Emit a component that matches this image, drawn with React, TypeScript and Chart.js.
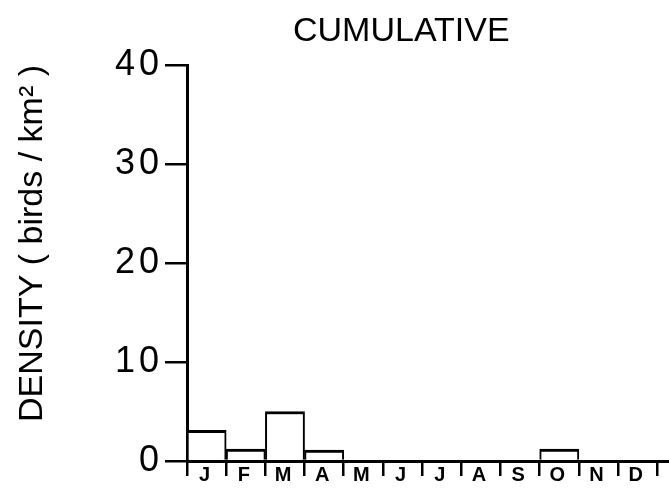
import { useEffect, useRef } from 'react';
import { Chart, registerables } from 'chart.js';

Chart.register(...registerables);

const months = ['J', 'F', 'M', 'A', 'M', 'J', 'J', 'A', 'S', 'O', 'N', 'D'];
const density = [3.1, 1.2, 5.0, 1.1, 0, 0, 0, 0, 0, 1.2, 0, 0];
const yTickValues = [0, 10, 20, 30, 40];
const chartTitle = 'CUMULATIVE';
const yAxisTitle = 'DENSITY ( birds / km² )';

export default function App() {
  const ref = useRef<HTMLCanvasElement>(null);

  useEffect(() => {
    if (!ref.current) return;
    const points = density.map((v, i) => ({ x: i + 0.5, y: v }));
    const xTickValues: number[] = [];
    for (let i = 0; i <= months.length * 2; i++) xTickValues.push(i / 2);

    const spacing = {
      id: 'spacing',
      afterUpdate(c: any) {
        const s = c.scales.y;
        if (s && !s.__wrappedTitle) {
          const orig = s.drawTitle;
          s.drawTitle = function (...args: any[]) {
            const ctx = this.ctx;
            const prev = ctx.letterSpacing;
            ctx.letterSpacing = '0px';
            orig.apply(this, args);
            ctx.letterSpacing = prev;
          };
          s.__wrappedTitle = true;
        }
      },
      beforeDraw(c: any) {
        c.ctx.letterSpacing = '4px';
      },
      afterDraw(c: any) {
        c.ctx.letterSpacing = '0px';
      },
    };

    const chart = new Chart(ref.current, {
      type: 'bar',
      data: {
        datasets: [
          {
            data: points as any,
            backgroundColor: '#ffffff',
            borderColor: '#000000',
            borderWidth: { top: 3, left: 2, right: 2, bottom: 0 } as any,
            borderSkipped: 'start',
            barThickness: 'flex',
            barPercentage: 1,
            categoryPercentage: 1,
          },
        ],
      },
      options: {
        animation: false,
        responsive: false,
        layout: { padding: { top: 65, right: 0, bottom: 0, left: 0 } },
        plugins: { legend: { display: false }, tooltip: { enabled: false } },
        scales: {
          x: {
            type: 'linear',
            min: 0,
            max: 12.3,
            offset: false,
            afterBuildTicks(s: any) {
              s.ticks = xTickValues.map((v) => ({ value: v }));
            },
            afterFit(s: any) {
              s.height = 35;
              s.paddingLeft = 0;
              s.paddingRight = 0;
            },
            ticks: {
              autoSkip: false,
              maxRotation: 0,
              minRotation: 0,
              padding: -13,
              color: '#000',
              font: { family: 'Liberation Sans', size: 20, weight: 'bold' },
              callback(v: any) {
                const n = Number(v);
                if (Number.isInteger(n)) return '';
                return months[Math.floor(n)] ?? '';
              },
            },
            grid: {
              offset: false,
              drawOnChartArea: false,
              drawTicks: true,
              tickLength: 15,
              lineWidth: 2.5,
              color: (ctx: any) =>
                ctx.tick && Number.isInteger(ctx.tick.value) ? '#000' : 'rgba(0,0,0,0)',
            },
            border: { color: '#000', width: 3 },
          },
          y: {
            min: 0,
            max: 40,
            afterBuildTicks(s: any) {
              s.ticks = yTickValues.map((v) => ({ value: v }));
            },
            afterFit(s: any) {
              s.width = 187;
            },
            ticks: {
              padding: 2,
              color: '#000',
              font: { family: 'Liberation Sans', size: 36 },
            },
            grid: {
              drawOnChartArea: false,
              drawTicks: true,
              tickLength: 22,
              lineWidth: 2.5,
              color: '#000',
            },
            border: { color: '#000', width: 3 },
            title: {
              display: true,
              text: yAxisTitle,
              align: 'end',
              color: '#000',
              font: { family: 'Liberation Sans', size: 34 },
              padding: { top: 12, bottom: 0 },
            },
          },
        },
      },
      plugins: [spacing],
    } as any);

    return () => chart.destroy();
  }, []);

  return (
    <div style={{ position: 'fixed', left: 0, top: 0, width: 669, height: 496, background: '#fff' }}>
      <canvas ref={ref} width={669} height={496} style={{ display: 'block' }} />
      <div
        style={{
          position: 'absolute',
          left: 293,
          top: 12,
          fontFamily: 'Liberation Sans',
          fontSize: 34,
          lineHeight: 1,
          color: '#000',
          whiteSpace: 'nowrap',
        }}
      >
        {chartTitle}
      </div>
    </div>
  );
}
